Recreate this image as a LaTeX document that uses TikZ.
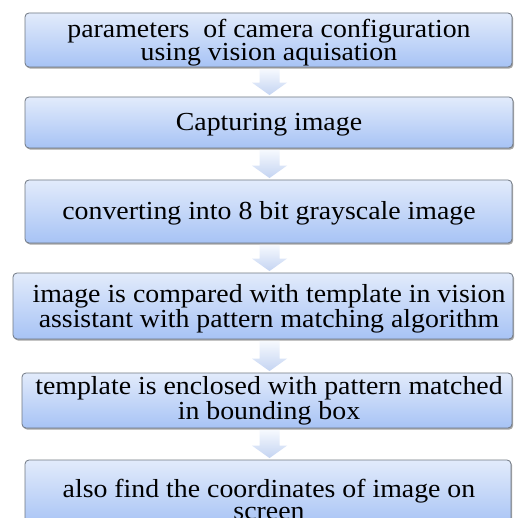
\documentclass[tikz,border=0pt]{standalone}
\usepackage{fontspec}
\setmainfont[FakeStretch=1.07]{Liberation Serif}
\usetikzlibrary{shadows,calc}

\definecolor{boxtop}{HTML}{E2EBFB}
\definecolor{boxbottom}{HTML}{A7C3F5}
\definecolor{boxline}{HTML}{6F7782}
\definecolor{arrowtop}{HTML}{F6F9FE}
\definecolor{arrowbottom}{HTML}{C4D4F2}

\tikzset{
  stepbox/.style={draw=boxline, line width=0.8pt, rounded corners=4pt,
    top color=boxtop, bottom color=boxbottom, inner sep=0pt,
    drop shadow={shadow xshift=1.2pt, shadow yshift=-1.6pt, opacity=0.35, fill=black}},
  % multi-line texts sit on the baseline of their last line
  steptext/.style={align=center, inner sep=0pt, anchor=base,
    font=\fontsize{26}{22}\selectfont},
  arrowfill/.style={top color=arrowtop, bottom color=arrowbottom, draw=none}
}

% hollow block arrow from the bottom of one box to the top of the next
\newcommand\flowarrow[2]{%
  \path[arrowfill] let \p1=(#1.south), \p2=(#2.north), \p3=(axis) in
    (\x3-10pt,\y1-1.5pt) -- (\x3+10pt,\y1-1.5pt) -- (\x3+10pt,\y2+14pt)
    -- (\x3+17.5pt,\y2+14pt) -- (\x3,\y2+1.5pt) -- (\x3-17.5pt,\y2+14pt)
    -- (\x3-10pt,\y2+14pt) -- cycle;}

\begin{document}
\begin{tikzpicture}[x=1pt, y=-1pt]
  \clip (0,0) rectangle (516,518);
  \fill[white] (0,0) rectangle (516,518);
  \coordinate (axis) at (269.5,0);

  % process boxes
  \node[stepbox, minimum width=487pt, minimum height=54pt] (b1) at (268.5,40) {};
  \node[stepbox, minimum width=488pt, minimum height=51pt] (b2) at (269,122.5) {};
  \node[stepbox, minimum width=487pt, minimum height=63pt] (b3) at (268.5,211.5) {};
  \node[stepbox, minimum width=500pt, minimum height=66pt] (b4) at (263,306) {};
  \node[stepbox, minimum width=490pt, minimum height=55pt] (b5) at (267,400.5) {};
  \node[stepbox, minimum width=486pt, minimum height=66pt] (b6) at (268,493) {};

  % connectors
  \flowarrow{b1}{b2}
  \flowarrow{b2}{b3}
  \flowarrow{b3}{b4}
  \flowarrow{b4}{b5}
  \flowarrow{b5}{b6}

  % box texts
  \node[steptext] (t1) at (269,61) {parameters\ \ of camera configuration\\using vision aquisation};
  \node[steptext] (t2) at (269,131) {Capturing image};
  \node[steptext] (t3) at (269,220) {converting into 8 bit grayscale image};
  \node[steptext] (t4) at (269,327) {image is compared with template in vision\\assistant with pattern matching algorithm};
  \node[steptext] (t5) at (269,419) {template is enclosed with pattern matched\\in bounding box};
  \node[steptext] (t6) at (269,519) {also find the coordinates of image on\\screen};
\end{tikzpicture}
\end{document}
